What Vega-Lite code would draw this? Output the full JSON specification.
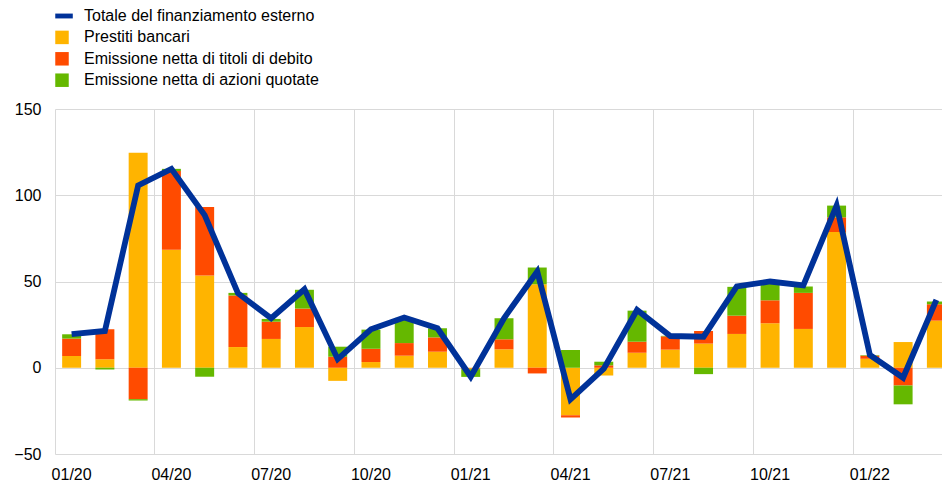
{
  "$schema": "https://vega.github.io/schema/vega-lite/v6.json",
  "autosize": "none",
  "width": 887,
  "height": 345,
  "padding": {"left": 55, "top": 109, "right": 0, "bottom": 27},
  "background": "white",
  "config": {
    "view": {"stroke": null},
    "font": "Liberation Sans",
    "axis": {"labelFont": "Liberation Sans", "labelFontSize": 16, "labelColor": "#000000", "gridColor": "#d9d9d9", "gridWidth": 1, "domain": false, "ticks": false, "title": null},
    "legend": {"labelFont": "Liberation Sans", "labelFontSize": 16, "labelColor": "#000000", "labelLimit": 0}
  },
  "datasets": {
    "bars": [
      {"m":"01/20","s":"Prestiti bancari","v":6.8},{"m":"01/20","s":"Emissione netta di titoli di debito","v":10.1},{"m":"01/20","s":"Emissione netta di azioni quotate","v":2.5},
      {"m":"02/20","s":"Prestiti bancari","v":5.0},{"m":"02/20","s":"Emissione netta di titoli di debito","v":17.3},{"m":"02/20","s":"Emissione netta di azioni quotate","v":-1.0},
      {"m":"03/20","s":"Prestiti bancari","v":124.6},{"m":"03/20","s":"Emissione netta di titoli di debito","v":-18.2},{"m":"03/20","s":"Emissione netta di azioni quotate","v":-0.8},
      {"m":"04/20","s":"Prestiti bancari","v":68.4},{"m":"04/20","s":"Emissione netta di titoli di debito","v":45.6},{"m":"04/20","s":"Emissione netta di azioni quotate","v":1.3},
      {"m":"05/20","s":"Prestiti bancari","v":53.5},{"m":"05/20","s":"Emissione netta di titoli di debito","v":39.7},{"m":"05/20","s":"Emissione netta di azioni quotate","v":-5.2},
      {"m":"06/20","s":"Prestiti bancari","v":12.0},{"m":"06/20","s":"Emissione netta di titoli di debito","v":29.9},{"m":"06/20","s":"Emissione netta di azioni quotate","v":1.5},
      {"m":"07/20","s":"Prestiti bancari","v":16.7},{"m":"07/20","s":"Emissione netta di titoli di debito","v":10.0},{"m":"07/20","s":"Emissione netta di azioni quotate","v":1.6},
      {"m":"08/20","s":"Prestiti bancari","v":23.6},{"m":"08/20","s":"Emissione netta di titoli di debito","v":10.7},{"m":"08/20","s":"Emissione netta di azioni quotate","v":10.9},
      {"m":"09/20","s":"Prestiti bancari","v":-7.6},{"m":"09/20","s":"Emissione netta di titoli di debito","v":6.4},{"m":"09/20","s":"Emissione netta di azioni quotate","v":5.8},
      {"m":"10/20","s":"Prestiti bancari","v":3.3},{"m":"10/20","s":"Emissione netta di titoli di debito","v":7.7},{"m":"10/20","s":"Emissione netta di azioni quotate","v":11.1},
      {"m":"11/20","s":"Prestiti bancari","v":7.0},{"m":"11/20","s":"Emissione netta di titoli di debito","v":7.3},{"m":"11/20","s":"Emissione netta di azioni quotate","v":14.6},
      {"m":"12/20","s":"Prestiti bancari","v":9.3},{"m":"12/20","s":"Emissione netta di titoli di debito","v":8.3},{"m":"12/20","s":"Emissione netta di azioni quotate","v":5.3},
      {"m":"01/21","s":"Prestiti bancari","v":-0.5},{"m":"01/21","s":"Emissione netta di titoli di debito","v":-0.3},{"m":"01/21","s":"Emissione netta di azioni quotate","v":-4.5},
      {"m":"02/21","s":"Prestiti bancari","v":10.7},{"m":"02/21","s":"Emissione netta di titoli di debito","v":5.8},{"m":"02/21","s":"Emissione netta di azioni quotate","v":12.2},
      {"m":"03/21","s":"Prestiti bancari","v":48.4},{"m":"03/21","s":"Emissione netta di titoli di debito","v":-3.3},{"m":"03/21","s":"Emissione netta di azioni quotate","v":9.7},
      {"m":"04/21","s":"Prestiti bancari","v":-27.5},{"m":"04/21","s":"Emissione netta di titoli di debito","v":-1.4},{"m":"04/21","s":"Emissione netta di azioni quotate","v":10.3},
      {"m":"05/21","s":"Prestiti bancari","v":-4.5},{"m":"05/21","s":"Emissione netta di titoli di debito","v":1.4},{"m":"05/21","s":"Emissione netta di azioni quotate","v":2.1},
      {"m":"06/21","s":"Prestiti bancari","v":8.7},{"m":"06/21","s":"Emissione netta di titoli di debito","v":6.4},{"m":"06/21","s":"Emissione netta di azioni quotate","v":18.0},
      {"m":"07/21","s":"Prestiti bancari","v":10.5},{"m":"07/21","s":"Emissione netta di titoli di debito","v":7.7},{"m":"07/21","s":"Emissione netta di azioni quotate","v":0.3},
      {"m":"08/21","s":"Prestiti bancari","v":14.0},{"m":"08/21","s":"Emissione netta di titoli di debito","v":7.3},{"m":"08/21","s":"Emissione netta di azioni quotate","v":-3.7},
      {"m":"09/21","s":"Prestiti bancari","v":19.6},{"m":"09/21","s":"Emissione netta di titoli di debito","v":10.6},{"m":"09/21","s":"Emissione netta di azioni quotate","v":16.7},
      {"m":"10/21","s":"Prestiti bancari","v":25.8},{"m":"10/21","s":"Emissione netta di titoli di debito","v":13.3},{"m":"10/21","s":"Emissione netta di azioni quotate","v":9.8},
      {"m":"11/21","s":"Prestiti bancari","v":22.5},{"m":"11/21","s":"Emissione netta di titoli di debito","v":20.9},{"m":"11/21","s":"Emissione netta di azioni quotate","v":3.7},
      {"m":"12/21","s":"Prestiti bancari","v":78.7},{"m":"12/21","s":"Emissione netta di titoli di debito","v":8.5},{"m":"12/21","s":"Emissione netta di azioni quotate","v":6.8},
      {"m":"01/22","s":"Prestiti bancari","v":5.2},{"m":"01/22","s":"Emissione netta di titoli di debito","v":1.8},{"m":"01/22","s":"Emissione netta di azioni quotate","v":0.3},
      {"m":"02/22","s":"Prestiti bancari","v":14.9},{"m":"02/22","s":"Emissione netta di titoli di debito","v":-10.3},{"m":"02/22","s":"Emissione netta di azioni quotate","v":-10.9},
      {"m":"03/22","s":"Prestiti bancari","v":27.3},{"m":"03/22","s":"Emissione netta di titoli di debito","v":9.5},{"m":"03/22","s":"Emissione netta di azioni quotate","v":1.6}
    ],
    "tot": [
      {"m":"01/20","v":19.5},{"m":"02/20","v":21.3},{"m":"03/20","v":105.7},{"m":"04/20","v":115.3},{"m":"05/20","v":88.5},{"m":"06/20","v":43.2},
      {"m":"07/20","v":28.7},{"m":"08/20","v":45.5},{"m":"09/20","v":5.0},{"m":"10/20","v":22.3},{"m":"11/20","v":29.1},{"m":"12/20","v":22.9},
      {"m":"01/21","v":-5.2},{"m":"02/21","v":28.7},{"m":"03/21","v":55.8},{"m":"04/21","v":-18.3},{"m":"05/21","v":-0.5},{"m":"06/21","v":33.5},
      {"m":"07/21","v":18.4},{"m":"08/21","v":18.0},{"m":"09/21","v":47.1},{"m":"10/21","v":50.0},{"m":"11/21","v":47.7},{"m":"12/21","v":94.0},
      {"m":"01/22","v":7.4},{"m":"02/22","v":-5.8},{"m":"03/22","v":39.3}
    ]
  },
  "layer": [
    {
      "data": {"name": "bars"},
      "mark": {"type": "bar", "width": {"band": 0.57}},
      "encoding": {
        "x": {
          "field": "m", "type": "ordinal",
          "scale": {"domain": ["01/20","02/20","03/20","04/20","05/20","06/20","07/20","08/20","09/20","10/20","11/20","12/20","01/21","02/21","03/21","04/21","05/21","06/21","07/21","08/21","09/21","10/21","11/21","12/21","01/22","02/22","03/22"], "range": [0, 898], "paddingInner": 0, "paddingOuter": 0},
          "axis": {"orient": "bottom", "values": ["01/20","04/20","07/20","10/20","01/21","04/21","07/21","10/21","01/22"], "grid": false, "labelAngle": 0, "labelPadding": 12}
        },
        "y": {
          "field": "v", "type": "quantitative", "stack": "zero",
          "scale": {"domain": [-50, 150], "nice": false},
          "axis": {"values": [-50, 0, 50, 100, 150], "grid": true, "labelPadding": 14}
        },
        "color": {
          "field": "s", "type": "nominal",
          "scale": {"domain": ["Totale del finanziamento esterno","Prestiti bancari","Emissione netta di titoli di debito","Emissione netta di azioni quotate"], "range": ["#003299","#ffb400","#ff4b00","#65b800"]},
          "legend": {
            "title": null, "orient": "none", "legendX": -1, "legendY": -101,
            "symbolType": "square", "symbolSize": 182, "symbolStrokeWidth": 0, "labelOffset": 14, "rowPadding": 5.4, "labelLimit": 0,
            "encode": {"symbols": {"update": {"shape": {"signal": "datum.value === 'Totale del finanziamento esterno' ? 'M-1,-0.36H1.6V0.36H-1Z' : 'square'"}}}}
          }
        },
        "order": {"field": "s", "sort": "descending"}
      }
    },
    {
      "data": {"name": "tot"},
      "mark": {"type": "line", "color": "#003299", "strokeWidth": 5.8},
      "encoding": {
        "x": {
          "field": "m", "type": "ordinal",
          "axis": {"orient": "bottom", "values": ["01/20","04/20","07/20","10/20","01/21","04/21","07/21","10/21","01/22"], "grid": true, "bandPosition": 0, "labels": false}
        },
        "y": {"field": "v", "type": "quantitative"}
      }
    }
  ],
  "resolve": {"axis": {"x": "independent"}}
}
